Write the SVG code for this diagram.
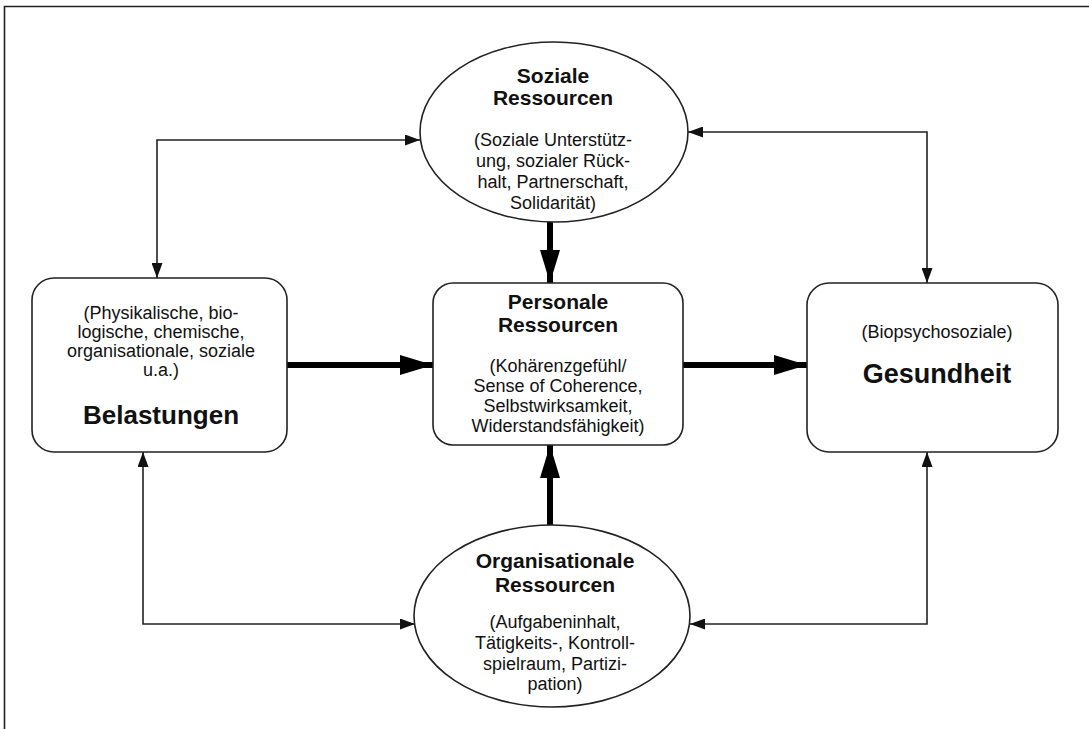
<svg xmlns="http://www.w3.org/2000/svg" width="1089" height="729" viewBox="0 0 1089 729">
<style>
.shape{fill:#fff;stroke:#222;stroke-width:1.6}
.thin{fill:none;stroke:#222;stroke-width:1.6}
.thick{fill:none;stroke:#000;stroke-width:6}
text{font-family:"Liberation Sans",Arial,sans-serif;fill:#111;text-anchor:middle}
.t{font-size:21px;font-weight:bold}
.b{font-size:18px}
.big{font-size:26px;font-weight:bold}
</style>
<defs>
<marker id="ah" markerUnits="userSpaceOnUse" markerWidth="15" markerHeight="11" refX="15" refY="5.5" orient="auto-start-reverse"><path d="M0,0 L15,5.5 L0,11 z" fill="#111"/></marker>
<marker id="AH" markerUnits="userSpaceOnUse" markerWidth="33" markerHeight="20" refX="33" refY="10" orient="auto"><path d="M0,0 L33,10 L0,20 z" fill="#000"/></marker>
</defs>
<rect width="1089" height="729" fill="#fff"/>
<path d="M4.5,729 V6.5 H1089" fill="none" stroke="#222" stroke-width="1.6"/>
<g id="connectors">
<path class="thin" d="M157,278 V140 H420" marker-start="url(#ah)" marker-end="url(#ah)"/>
<path class="thin" d="M927,283 V132 H688" marker-start="url(#ah)" marker-end="url(#ah)"/>
<path class="thin" d="M143,452 V624 H415" marker-start="url(#ah)" marker-end="url(#ah)"/>
<path class="thin" d="M927,452 V624 H690" marker-start="url(#ah)" marker-end="url(#ah)"/>
<path class="thick" d="M287,365 H433" marker-end="url(#AH)"/>
<path class="thick" d="M683,365 H807" marker-end="url(#AH)"/>
<path class="thick" d="M550,222 V283" marker-end="url(#AH)"/>
<path class="thick" d="M550,525 V445" marker-end="url(#AH)"/>
</g>
<g id="soziale">
<ellipse class="shape" cx="554" cy="132" rx="134" ry="90"/>
<text class="t" x="553" y="83">Soziale</text>
<text class="t" x="553" y="105">Ressourcen</text>
<text class="b" x="553" y="146">(Soziale Unterstütz-</text>
<text class="b" x="553" y="167">ung, sozialer Rück-</text>
<text class="b" x="553" y="188">halt, Partnerschaft,</text>
<text class="b" x="553" y="209">Solidarität)</text>
</g>
<g id="belastungen">
<rect class="shape" x="32" y="278" width="255" height="174" rx="22"/>
<text class="b" x="161" y="319">(Physikalische, bio-</text>
<text class="b" x="161" y="338">logische, chemische,</text>
<text class="b" x="161" y="357">organisationale, soziale</text>
<text class="b" x="161" y="376">u.a.)</text>
<text class="big" x="161" y="424">Belastungen</text>
</g>
<g id="personale">
<rect class="shape" x="433" y="283" width="250" height="162" rx="20"/>
<text class="t" x="558" y="309">Personale</text>
<text class="t" x="558" y="332">Ressourcen</text>
<text class="b" x="558" y="372">(Kohärenzgefühl/</text>
<text class="b" x="558" y="392">Sense of Coherence,</text>
<text class="b" x="558" y="412">Selbstwirksamkeit,</text>
<text class="b" x="558" y="432">Widerstandsfähigkeit)</text>
</g>
<g id="gesundheit">
<rect class="shape" x="807" y="283" width="251" height="169" rx="22"/>
<text class="b" x="937" y="338">(Biopsychosoziale)</text>
<text class="big" x="937" y="383" style="font-size:27px">Gesundheit</text>
</g>
<g id="organisationale">
<ellipse class="shape" cx="552" cy="616" rx="138" ry="91"/>
<text class="t" x="555" y="568">Organisationale</text>
<text class="t" x="555" y="592">Ressourcen</text>
<text class="b" x="555" y="628">(Aufgabeninhalt,</text>
<text class="b" x="555" y="649">Tätigkeits-, Kontroll-</text>
<text class="b" x="555" y="670">spielraum, Partizi-</text>
<text class="b" x="555" y="690">pation)</text>
</g>
</svg>
